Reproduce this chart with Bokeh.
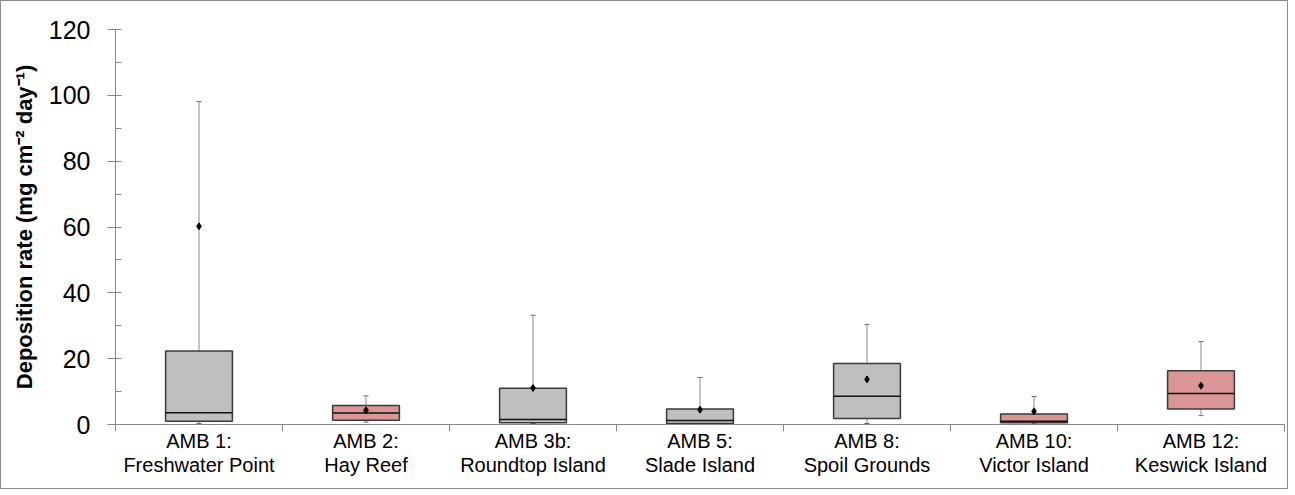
import numpy as np
from bokeh.plotting import figure
from bokeh.models import (ColumnDataSource, Range1d, FixedTicker, SingleIntervalTicker,
                          Whisker, TeeHead)
from bokeh.embed import file_html
from bokeh.resources import INLINE

# ---- data ----
stations = ["AMB 1:\nFreshwater Point", "AMB 2:\nHay Reef", "AMB 3b:\nRoundtop Island",
            "AMB 5:\nSlade Island", "AMB 8:\nSpoil Grounds", "AMB 10:\nVictor Island",
            "AMB 12:\nKeswick Island"]
whisker_low = [0.3, 0.7, 0.3, 0.1, 0.3, 0.2, 2.7]
q1 = [1.0, 1.3, 0.5, 0.3, 1.8, 0.5, 4.7]
median = [3.6, 3.5, 1.5, 1.2, 8.6, 1.0, 9.4]
q3 = [22.3, 5.8, 11.0, 4.7, 18.5, 3.2, 16.3]
whisker_high = [98.1, 8.7, 33.2, 14.3, 30.4, 8.5, 25.2]
mean = [60.2, 4.3, 11.1, 4.5, 13.7, 4.0, 11.8]
highlighted = [False, True, False, False, False, True, True]

GREY = "#BFBFBF"
PINK = "#D99694"
FONT = "Liberation Sans"
BOX_W = 0.4

n = len(stations)
xc = np.arange(n) + 0.5
src = ColumnDataSource(dict(
    x=xc, lo=whisker_low, q1=q1, med=median, q3=q3, hi=whisker_high, mean=mean,
    x0=xc - BOX_W / 2, x1=xc + BOX_W / 2,
    fill=[PINK if h else GREY for h in highlighted],
))

p = figure(width=1288, height=489, output_backend="svg", toolbar_location=None,
           x_range=Range1d(0, n), y_range=Range1d(0, 120),
           min_border_left=114, min_border_right=5, min_border_top=28, min_border_bottom=66)
p.outline_line_color = None
p.xgrid.visible = False
p.ygrid.visible = False
p.styles = {"border": "1px solid #8c8c8c"}

# whiskers
w = Whisker(base="x", lower="lo", upper="hi", source=src, line_color="#8a8a8a", line_width=1,
            upper_head=TeeHead(size=5, line_color="#6a6a6a", line_width=1),
            lower_head=TeeHead(size=5, line_color="#6a6a6a", line_width=1),
            level="underlay")
p.add_layout(w)

# boxes
p.vbar(x="x", width=BOX_W, bottom="q1", top="q3", source=src, fill_color="fill",
       line_color="#3a3a3a", line_width=1.5)
# medians
p.segment(x0="x0", x1="x1", y0="med", y1="med", source=src, line_color="#111111", line_width=1.5)
# means
p.scatter(x="x", y="mean", source=src, marker="diamond", size=7, fill_color="black",
          line_color="black")

# x axis
xa = p.xaxis[0]
xa.ticker = FixedTicker(ticks=list(xc), minor_ticks=list(range(n + 1)))
xa.major_label_overrides = {float(x): s for x, s in zip(xc, stations)}
xa.major_tick_out = 0
xa.major_tick_in = 0
xa.minor_tick_out = 7
xa.minor_tick_in = 0
xa.minor_tick_line_color = "#868686"
xa.axis_line_color = "#868686"
xa.major_label_text_font = FONT
xa.major_label_text_font_size = "20px"
xa.major_label_text_line_height = 1.1
xa.major_label_text_color = "black"
xa.major_label_standoff = -2

# y axis
ya = p.yaxis[0]
ya.ticker = SingleIntervalTicker(interval=20, num_minor_ticks=2)
ya.axis_line_color = "#868686"
ya.major_tick_line_color = "#868686"
ya.minor_tick_line_color = "#868686"
ya.major_tick_out = 8
ya.major_tick_in = 6
ya.minor_tick_out = 0
ya.minor_tick_in = 6
ya.major_label_text_font = FONT
ya.major_label_text_font_size = "25px"
ya.major_label_text_color = "black"
ya.major_label_standoff = 17
ya.axis_label = "Deposition rate (mg cm\u207b\u00b2 day\u207b\u00b9)"
ya.axis_label_text_font = FONT
ya.axis_label_text_font_style = "bold"
ya.axis_label_text_font_size = "22px"
ya.axis_label_text_color = "black"
ya.axis_label_standoff = 9

open("out.html", "w").write(file_html(p, INLINE))
